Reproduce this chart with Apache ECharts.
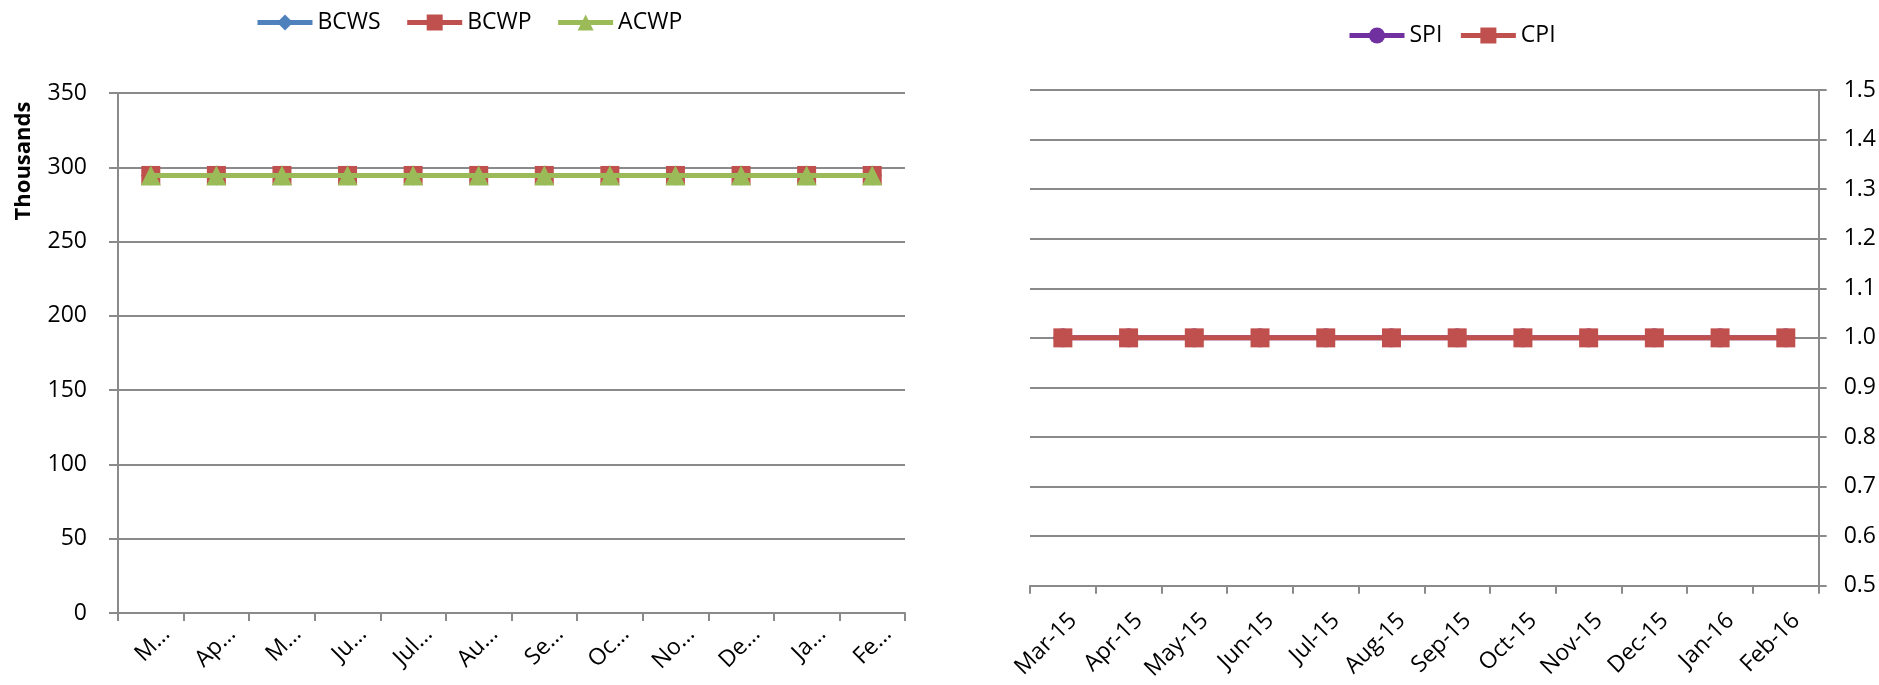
<!DOCTYPE html>
<html>
<head>
<meta charset="utf-8">
<script src="https://cdn.jsdelivr.net/npm/echarts@6/dist/echarts.min.js"></script>
<style>
html,body{margin:0;padding:0;background:#fff;}
#c{width:1879px;height:685px;}
</style>
</head>
<body>
<div id="c"></div>
<script>
// ---- data ----
const months = ['Mar-15','Apr-15','May-15','Jun-15','Jul-15','Aug-15','Sep-15','Oct-15','Nov-15','Dec-15','Jan-16','Feb-16'];
const bcws = [294.5,294.5,294.5,294.5,294.5,294.5,294.5,294.5,294.5,294.5,294.5,294.5];
const bcwp = [294.5,294.5,294.5,294.5,294.5,294.5,294.5,294.5,294.5,294.5,294.5,294.5];
const acwp = [294.5,294.5,294.5,294.5,294.5,294.5,294.5,294.5,294.5,294.5,294.5,294.5];
const spi  = [1.0,1.0,1.0,1.0,1.0,1.0,1.0,1.0,1.0,1.0,1.0,1.0];
const cpi  = [1.0,1.0,1.0,1.0,1.0,1.0,1.0,1.0,1.0,1.0,1.0,1.0];
const leftTicks = {min:0, max:350, interval:50};
const rightTicks = {min:0.5, max:1.5, interval:0.1};
const unitLabel = 'Thousands';

const FONT = 'Open Sans';
const FS = 23;
const GRAY = '#8a8a8a';
const chart = echarts.init(document.getElementById('c'), null, {renderer:'canvas'});

const axisLine = {show:true, lineStyle:{color:GRAY, width:2}};
const splitLine = {show:true, lineStyle:{color:GRAY, width:2}};
const legendText = {fontFamily:FONT, fontSize:FS, color:'#000'};

chart.setOption({
  animation:false,
  textStyle:{fontFamily:FONT},
  legend:[
    {left:250, top:6, itemWidth:55, itemHeight:20, itemGap:24,
     lineStyle:{width:5}, textStyle:legendText,
     data:['BCWS','BCWP','ACWP']},
    {left:1342, top:19, itemWidth:55, itemHeight:20, itemGap:16,
     lineStyle:{width:5}, textStyle:legendText,
     data:['SPI','CPI']}
  ],
  graphic:[
    {type:'text', x:24, y:161, rotation:Math.PI/2,
     style:{text:unitLabel, fontFamily:FONT, fontSize:22, fontWeight:'bold', fill:'#000',
            align:'center', verticalAlign:'middle'}}
  ],
  grid:[
    {left:118, top:93, width:787, height:520},
    {left:1030, top:90, width:791, height:503}
  ],
  xAxis:[
    {type:'category', gridIndex:0, data:months, boundaryGap:true,
     axisLine:axisLine, axisTick:{show:true, length:8, lineStyle:{color:GRAY,width:2}},
     axisLabel:{rotate:45, fontSize:FS, color:'#000', fontFamily:FONT, margin:2, interval:0,
       verticalAlign:'top', lineHeight:44, width:50.5, overflow:'truncate', ellipsis:'…'}},
    {type:'category', gridIndex:1, data:months, boundaryGap:true,
     axisLine:axisLine, axisTick:{show:true, length:8, lineStyle:{color:GRAY,width:2}},
     axisLabel:{rotate:45, fontSize:FS, color:'#000', fontFamily:FONT, margin:21, interval:0,
       verticalAlign:'top', lineHeight:29}}
  ],
  yAxis:[
    {type:'value', gridIndex:0, min:leftTicks.min, max:leftTicks.max, interval:leftTicks.interval,
     axisLine:axisLine, axisTick:{show:true, length:9, lineStyle:{color:GRAY,width:2}},
     axisLabel:{fontSize:FS, color:'#000', fontFamily:FONT, margin:31},
     splitLine:splitLine},
    {type:'value', gridIndex:1, position:'right', min:rightTicks.min, max:rightTicks.max, interval:rightTicks.interval,
     axisLine:axisLine, axisTick:{show:true, length:8, lineStyle:{color:GRAY,width:2}},
     axisLabel:{fontSize:FS, color:'#000', fontFamily:FONT, margin:25, formatter:v=>v.toFixed(1)},
     splitLine:splitLine}
  ],
  series:[
    {name:'BCWS', type:'line', xAxisIndex:0, yAxisIndex:0, data:bcws, symbol:'diamond', symbolSize:20,
     itemStyle:{color:'#4F81BD'}, lineStyle:{width:5, color:'#4F81BD'}, z:2},
    {name:'BCWP', type:'line', xAxisIndex:0, yAxisIndex:0, data:bcwp, symbol:'rect', symbolSize:19,
     itemStyle:{color:'#C0504D'}, lineStyle:{width:5, color:'#C0504D'}, z:3},
    {name:'ACWP', type:'line', xAxisIndex:0, yAxisIndex:0, data:acwp, symbol:'triangle', symbolSize:20,
     itemStyle:{color:'#9BBB59'}, lineStyle:{width:5, color:'#9BBB59'}, z:4},
    {name:'SPI', type:'line', xAxisIndex:1, yAxisIndex:1, data:spi, symbol:'circle', symbolSize:19,
     itemStyle:{color:'#7030A0'}, lineStyle:{width:5, color:'#7030A0'}, z:2},
    {name:'CPI', type:'line', xAxisIndex:1, yAxisIndex:1, data:cpi, symbol:'rect', symbolSize:19,
     itemStyle:{color:'#C0504D'}, lineStyle:{width:5, color:'#C0504D'}, z:3}
  ]
});
</script>
</body>
</html>
